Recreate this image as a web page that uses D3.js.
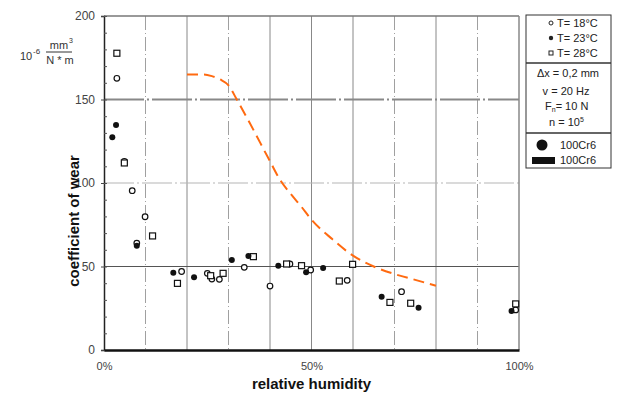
<!DOCTYPE html>
<html>
<head>
<meta charset="utf-8">
<script src="https://cdn.jsdelivr.net/npm/d3@7"></script>
<style>
  body { margin: 0; background: #fff; }
  svg { font-family: 'Liberation Sans', Arial, sans-serif; }
</style>
</head>
<body>
<div id="chart"></div>
<script>
// relative humidity (%) / coefficient of wear (10^-6 mm3/(N*m))
const t18Points = [
  [3.1, 162.7], [4.9, 113], [6.8, 95.4], [7.9, 64], [9.9, 79.8], [18.7, 47],
  [24.9, 45.9], [26, 42.5], [27.8, 42.3], [33.8, 49.5], [40, 38.3], [44.8, 51.5],
  [49.8, 47.9], [58.6, 41.7], [71.7, 34.9], [99.2, 24]
];
const t23Points = [
  [2.0, 127.4], [2.9, 134.7], [7.9, 62.5], [16.7, 46.3], [21.7, 43.5], [30.8, 53.9],
  [34.8, 56.3], [42, 50.5], [48.7, 46.5], [52.8, 49.1], [66.9, 31.9], [75.8, 25.3],
  [98.2, 23.4]
];
const t28Points = [
  [3.1, 177.7], [4.9, 112], [11.7, 68.3], [17.7, 39.9], [25.7, 44.5], [28.7, 45.9],
  [36, 55.9], [44, 51.5], [47.6, 50.5], [56.7, 41.3], [59.9, 51.3], [68.9, 28.5],
  [73.9, 28], [99.2, 27.6]
];
const curveHumidity = [20, 24, 26, 28, 30, 32, 35, 40, 42.4, 45, 47.5, 50, 55, 60, 65, 70, 75, 80];
const curveWear = [165, 165, 164, 162, 158.5, 150, 136.5, 113, 102, 93.4, 86, 78, 66.4, 56.5, 50, 45.5, 42, 38.5];
const yTicks = [0, 50, 100, 150, 200];
const xTickValues = [0, 50, 100];
const xTickLabels = ['0%', '50%', '100%'];
const legendTemps = ['T= 18°C', 'T= 23°C', 'T= 28°C'];

const width = 617;
const height = 393;
const margins = { top: 16, bottom: 43, left: 104, right: 98 };

const svg = d3.select('#chart').append('svg')
  .attr('width', width)
  .attr('height', height);

const xScale = d3.scaleLinear()
  .domain([0, 100])
  .range([margins.left, width - margins.right]);

const yScale = d3.scaleLinear()
  .domain([0, 200])
  .range([height - margins.bottom, margins.top]);

// vertical grid
const gridGroup = svg.append('g').attr('class', 'grid');
d3.range(10, 100, 10).forEach((v) => {
  const dashed = [10, 30, 70, 90].includes(v);
  gridGroup.append('line')
    .attr('x1', xScale(v)).attr('x2', xScale(v))
    .attr('y1', yScale(200)).attr('y2', yScale(0))
    .style('stroke', dashed ? '#a0a0a0' : '#888')
    .style('stroke-width', 1)
    .style('stroke-dasharray', dashed ? '14,3,1,3' : null);
});

// horizontal grid
const hGrid = [
  { v: 50, color: '#555', w: 1, dash: null },
  { v: 100, color: '#b5b5b5', w: 1, dash: '30,3,2,3' },
  { v: 150, color: '#888', w: 2, dash: '40,3,2,3' }
];
hGrid.forEach((g) => {
  gridGroup.append('line')
    .attr('x1', xScale(0)).attr('x2', xScale(100))
    .attr('y1', yScale(g.v)).attr('y2', yScale(g.v))
    .style('stroke', g.color)
    .style('stroke-width', g.w)
    .style('stroke-dasharray', g.dash);
});

// frame top / right
svg.append('line')
  .attr('x1', xScale(0)).attr('x2', xScale(100))
  .attr('y1', yScale(200)).attr('y2', yScale(200))
  .style('stroke', '#777').style('stroke-width', 1.5);
svg.append('line')
  .attr('x1', xScale(100)).attr('x2', xScale(100))
  .attr('y1', yScale(200)).attr('y2', yScale(0))
  .style('stroke', '#888').style('stroke-width', 1.5);

// y axis
const yAxis = d3.axisLeft(yScale)
  .tickValues(yTicks)
  .tickSize(3)
  .tickPadding(6);
const yAxisG = svg.append('g')
  .attr('transform', `translate(${margins.left},0)`)
  .call(yAxis);
yAxisG.select('.domain').style('stroke', '#222').style('stroke-width', 1.5);
yAxisG.selectAll('.tick text').style('font-size', '12px').style('fill', '#444');
yAxisG.selectAll('.tick line').style('stroke', '#444');

const yMinor = d3.axisRight(yScale)
  .tickValues(d3.range(0, 201, 10))
  .tickSize(3)
  .tickFormat('');
const yMinorG = svg.append('g')
  .attr('transform', `translate(${margins.left},0)`)
  .call(yMinor);
yMinorG.select('.domain').remove();
yMinorG.selectAll('.tick line').style('stroke', '#555');

// x axis
const xAxis = d3.axisBottom(xScale)
  .tickValues(xTickValues)
  .tickSize(0)
  .tickPadding(12)
  .tickFormat((d, i) => xTickLabels[i]);
const xAxisG = svg.append('g')
  .attr('transform', `translate(0,${yScale(0)})`)
  .call(xAxis);
xAxisG.select('.domain').style('stroke', '#111').style('stroke-width', 2.5);
xAxisG.selectAll('.tick text').style('font-size', '11px').style('fill', '#444');

// axis titles
svg.append('text')
  .attr('x', xScale(50))
  .attr('y', 389)
  .style('text-anchor', 'middle')
  .style('font-size', '15px')
  .style('font-weight', 'bold')
  .style('fill', '#111')
  .text('relative humidity');

svg.append('text')
  .attr('transform', 'translate(79,221) rotate(-90)')
  .style('text-anchor', 'middle')
  .style('font-size', '15px')
  .style('font-weight', 'bold')
  .style('fill', '#111')
  .text('coefficient of wear');

// unit
const unitG = svg.append('g').style('fill', '#333');
unitG.append('text').attr('x', 20).attr('y', 60).style('font-size', '11px').text('10');
unitG.append('text').attr('x', 33).attr('y', 54).style('font-size', '8px').text('-6');
unitG.append('text').attr('x', 59).attr('y', 49).style('text-anchor', 'middle').style('font-size', '11px').text('mm');
unitG.append('text').attr('x', 69).attr('y', 43).style('font-size', '7px').text('3');
unitG.append('line')
  .attr('x1', 46).attr('x2', 72).attr('y1', 52).attr('y2', 52)
  .style('stroke', '#333').style('stroke-width', 1);
unitG.append('text').attr('x', 60).attr('y', 64).style('text-anchor', 'middle').style('font-size', '11px').text('N * m');

// wear curve
const curveData = curveHumidity.map((h, i) => ({ h, w: curveWear[i] }));
const curveLine = d3.line()
  .x((d) => xScale(d.h))
  .y((d) => yScale(d.w))
  .curve(d3.curveMonotoneX);
svg.append('path')
  .datum(curveData)
  .attr('d', curveLine)
  .style('fill', 'none')
  .style('stroke', '#ff6a10')
  .style('stroke-width', 2)
  .style('stroke-dasharray', '11,6');

// points
const pointGroup = svg.append('g');
pointGroup.selectAll('.t18')
  .data(t18Points)
  .enter().append('circle')
  .attr('cx', (d) => xScale(d[0]))
  .attr('cy', (d) => yScale(d[1]))
  .attr('r', 2.8)
  .style('fill', '#fff')
  .style('stroke', '#111')
  .style('stroke-width', 1.2);
pointGroup.selectAll('.t28')
  .data(t28Points)
  .enter().append('rect')
  .attr('x', (d) => xScale(d[0]) - 3)
  .attr('y', (d) => yScale(d[1]) - 3)
  .attr('width', 6)
  .attr('height', 6)
  .style('fill', '#fff')
  .style('stroke', '#111')
  .style('stroke-width', 1.2);
pointGroup.selectAll('.t23')
  .data(t23Points)
  .enter().append('circle')
  .attr('cx', (d) => xScale(d[0]))
  .attr('cy', (d) => yScale(d[1]))
  .attr('r', 3)
  .style('fill', '#111');

// legend
const legend = svg.append('g').attr('class', 'legend');
const lx = 526;
const lw = 85;
legend.append('rect')
  .attr('x', lx).attr('y', 15).attr('width', lw).attr('height', 153)
  .style('fill', '#fff').style('stroke', '#333').style('stroke-width', 1);
[63, 133].forEach((y) => {
  legend.append('line')
    .attr('x1', lx).attr('x2', lx + lw).attr('y1', y).attr('y2', y)
    .style('stroke', '#333').style('stroke-width', 1.5);
});

const tempRows = [23, 38, 53];
legendTemps.forEach((t, i) => {
  const cy = tempRows[i];
  if (i === 0) {
    legend.append('circle').attr('cx', 551).attr('cy', cy).attr('r', 2)
      .style('fill', '#fff').style('stroke', '#222').style('stroke-width', 1);
  } else if (i === 1) {
    legend.append('circle').attr('cx', 551).attr('cy', cy).attr('r', 2.2).style('fill', '#222');
  } else {
    legend.append('rect').attr('x', 549).attr('y', cy - 2).attr('width', 4).attr('height', 4)
      .style('fill', '#fff').style('stroke', '#222').style('stroke-width', 1);
  }
  legend.append('text')
    .attr('x', 557).attr('y', cy + 4)
    .style('font-size', '11px').style('fill', '#222')
    .text(t);
});

const paramG = legend.append('g').style('font-size', '11px').style('fill', '#222');
paramG.append('text').attr('x', 568).attr('y', 77).style('text-anchor', 'middle').text('Δx = 0,2 mm');
paramG.append('text').attr('x', 566).attr('y', 95).style('text-anchor', 'middle').text('v = 20 Hz');
const fText = paramG.append('text').attr('x', 545).attr('y', 110);
fText.append('tspan').text('F');
fText.append('tspan').attr('dy', 2).style('font-size', '7px').text('n');
fText.append('tspan').attr('dy', -2).text('= 10 N');
const nText = paramG.append('text').attr('x', 549).attr('y', 126);
nText.append('tspan').text('n = 10');
nText.append('tspan').attr('dy', -4).style('font-size', '7px').text('5');

legend.append('circle').attr('cx', 542).attr('cy', 145).attr('r', 5.5).style('fill', '#111');
legend.append('rect').attr('x', 532).attr('y', 157).attr('width', 23).attr('height', 7).style('fill', '#111');
legend.append('text').attr('x', 560).attr('y', 149).style('font-size', '11px').style('fill', '#222').text('100Cr6');
legend.append('text').attr('x', 560).attr('y', 164).style('font-size', '11px').style('fill', '#222').text('100Cr6');
</script>
</body>
</html>
